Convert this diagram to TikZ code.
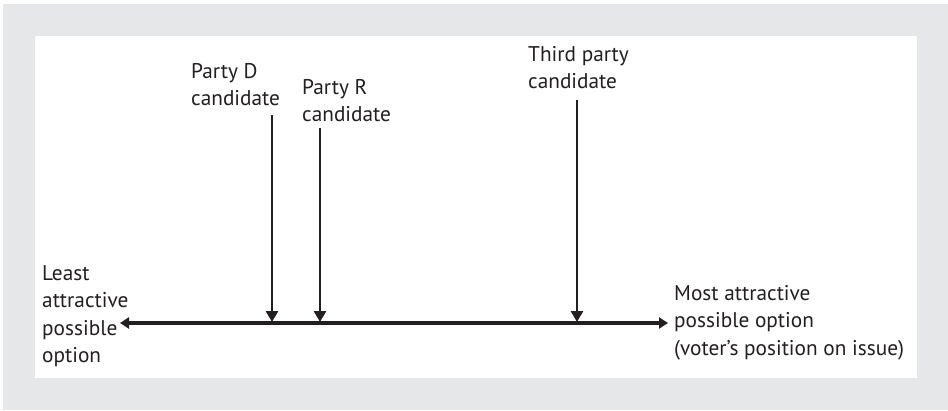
\documentclass[tikz,border=0pt]{standalone}
\usepackage{fontspec}
\setmainfont{PT Sans}
\usetikzlibrary{arrows.meta}
\definecolor{panelgray}{HTML}{E6E7E8}
\definecolor{ink}{HTML}{231F20}
\tikzset{
  lbl/.style={anchor=north west, inner sep=0pt, align=left, text=ink,
    font=\fontsize{21.3}{27.5}\selectfont},
  pointer/.style={draw=ink, line width=2.8pt, -{Triangle[length=11pt,width=12pt]}},
  axis/.style={draw=ink, line width=4pt, {Triangle[length=9pt,width=11pt]}-{Triangle[length=9pt,width=11pt]}}
}
\begin{document}
\begin{tikzpicture}[x=1pt,y=-1pt]
\useasboundingbox (0,0) rectangle (948,410);
\fill[panelgray] (3,4) rectangle (948,410);
\fill[white] (35,36) rectangle (917,378);

\coordinate (L) at (120,323);
\coordinate (R) at (668,323);
\draw[axis] (L) -- (R);

\coordinate (Dtop) at (272,115);
\coordinate (Dbot) at (272,322);
\coordinate (Rtop) at (320,128);
\coordinate (Rbot) at (320,322);
\coordinate (Ttop) at (577,100);
\coordinate (Tbot) at (577,322);
\draw[pointer] (Dtop) -- (Dbot);
\draw[pointer] (Rtop) -- (Rbot);
\draw[pointer] (Ttop) -- (Tbot);

\node[lbl] (partyD) at (191,63) {Party D\\candidate};
\node[lbl] (partyR) at (302,79) {Party R\\candidate};
\node[lbl] (third) at (528,46) {Third party\\candidate};
\node[lbl] (least) at (42,265) {Least\\attractive\\possible\\option};
\node[lbl] (most) at (674,285) {Most attractive\\possible option\\(voter’s position on issue)};
\end{tikzpicture}
\end{document}
